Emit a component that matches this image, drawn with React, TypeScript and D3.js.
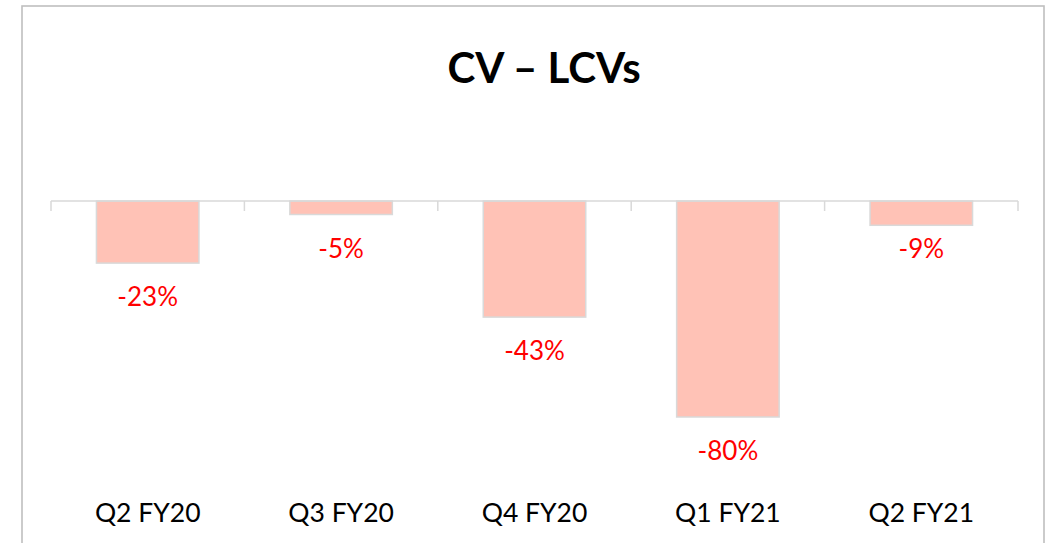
import { useEffect, useRef } from 'react'
import * as d3 from 'd3'

const CATEGORIES = ['Q2 FY20', 'Q3 FY20', 'Q4 FY20', 'Q1 FY21', 'Q2 FY21']
const VALUES = [-23, -5, -43, -80, -9]
const TITLE = 'CV – LCVs'

export default function App() {
  const svgRef = useRef<SVGSVGElement | null>(null)

  useEffect(() => {
    if (!svgRef.current) return
    const width = 1053
    const height = 543
    const font = 'Lato, Carlito, Calibri, sans-serif'

    const svg = d3.select(svgRef.current)
    svg.selectAll('*').remove()
    svg.attr('width', width).attr('height', height)

    svg.append('rect')
      .attr('width', width).attr('height', height).attr('fill', '#fff')

    // chart frame (bottom edge falls outside the view)
    svg.append('rect')
      .attr('x', 22).attr('y', 6)
      .attr('width', 1022).attr('height', 600)
      .attr('fill', 'none')
      .attr('stroke', '#bfbfbf')
      .attr('stroke-width', 1.6)

    svg.append('text')
      .attr('x', 544).attr('y', 83)
      .attr('text-anchor', 'middle')
      .attr('font-family', font)
      .attr('font-weight', 700)
      .attr('font-size', 42)
      .attr('fill', '#000')
      .text(TITLE)

    const x = d3.scaleBand<string>()
      .domain(CATEGORIES)
      .range([51, 1018])
      .paddingInner(0.47)
      .paddingOuter(0.235)

    const y = d3.scaleLinear().domain([0, -80]).range([201, 417])

    const g = svg.append('g')

    // bars
    g.selectAll('rect.bar')
      .data(VALUES)
      .join('rect')
      .attr('class', 'bar')
      .attr('x', (_, i) => x(CATEGORIES[i])!)
      .attr('y', y(0))
      .attr('width', x.bandwidth())
      .attr('height', (d) => y(d) - y(0))
      .attr('fill', '#ffc2b6')
      .attr('stroke', '#d9d9d9')
      .attr('stroke-width', 1.5)

    // axis line + ticks at band edges
    const [r0, r1] = x.range()
    g.append('line')
      .attr('x1', r0).attr('x2', r1)
      .attr('y1', y(0)).attr('y2', y(0))
      .attr('stroke', '#d9d9d9').attr('stroke-width', 1.5)
    d3.range(CATEGORIES.length + 1).forEach((i) => {
      const tx = r0 + (i * (r1 - r0)) / CATEGORIES.length
      g.append('line')
        .attr('x1', tx).attr('x2', tx)
        .attr('y1', y(0)).attr('y2', y(0) + 10)
        .attr('stroke', '#d9d9d9').attr('stroke-width', 1.5)
    })

    // value labels; small bars share one label row
    g.selectAll('text.val')
      .data(VALUES)
      .join('text')
      .attr('class', 'val')
      .attr('x', (_, i) => x(CATEGORIES[i])! + x.bandwidth() / 2)
      .attr('y', (d) => (d > -10 ? y(-5) : y(d)) + 43)
      .attr('text-anchor', 'middle')
      .attr('font-family', font)
      .attr('font-size', 26)
      .attr('fill', '#ff0000')
      .text((d) => `${d}%`)

    // category labels
    g.selectAll('text.cat')
      .data(CATEGORIES)
      .join('text')
      .attr('class', 'cat')
      .attr('x', (d) => x(d)! + x.bandwidth() / 2)
      .attr('y', 522)
      .attr('text-anchor', 'middle')
      .attr('font-family', font)
      .attr('font-size', 26.5)
      .attr('fill', '#000')
      .text((d) => d)
  }, [])

  return (
    <svg
      ref={svgRef}
      style={{ position: 'absolute', left: 0, top: 0, display: 'block' }}
    />
  )
}
